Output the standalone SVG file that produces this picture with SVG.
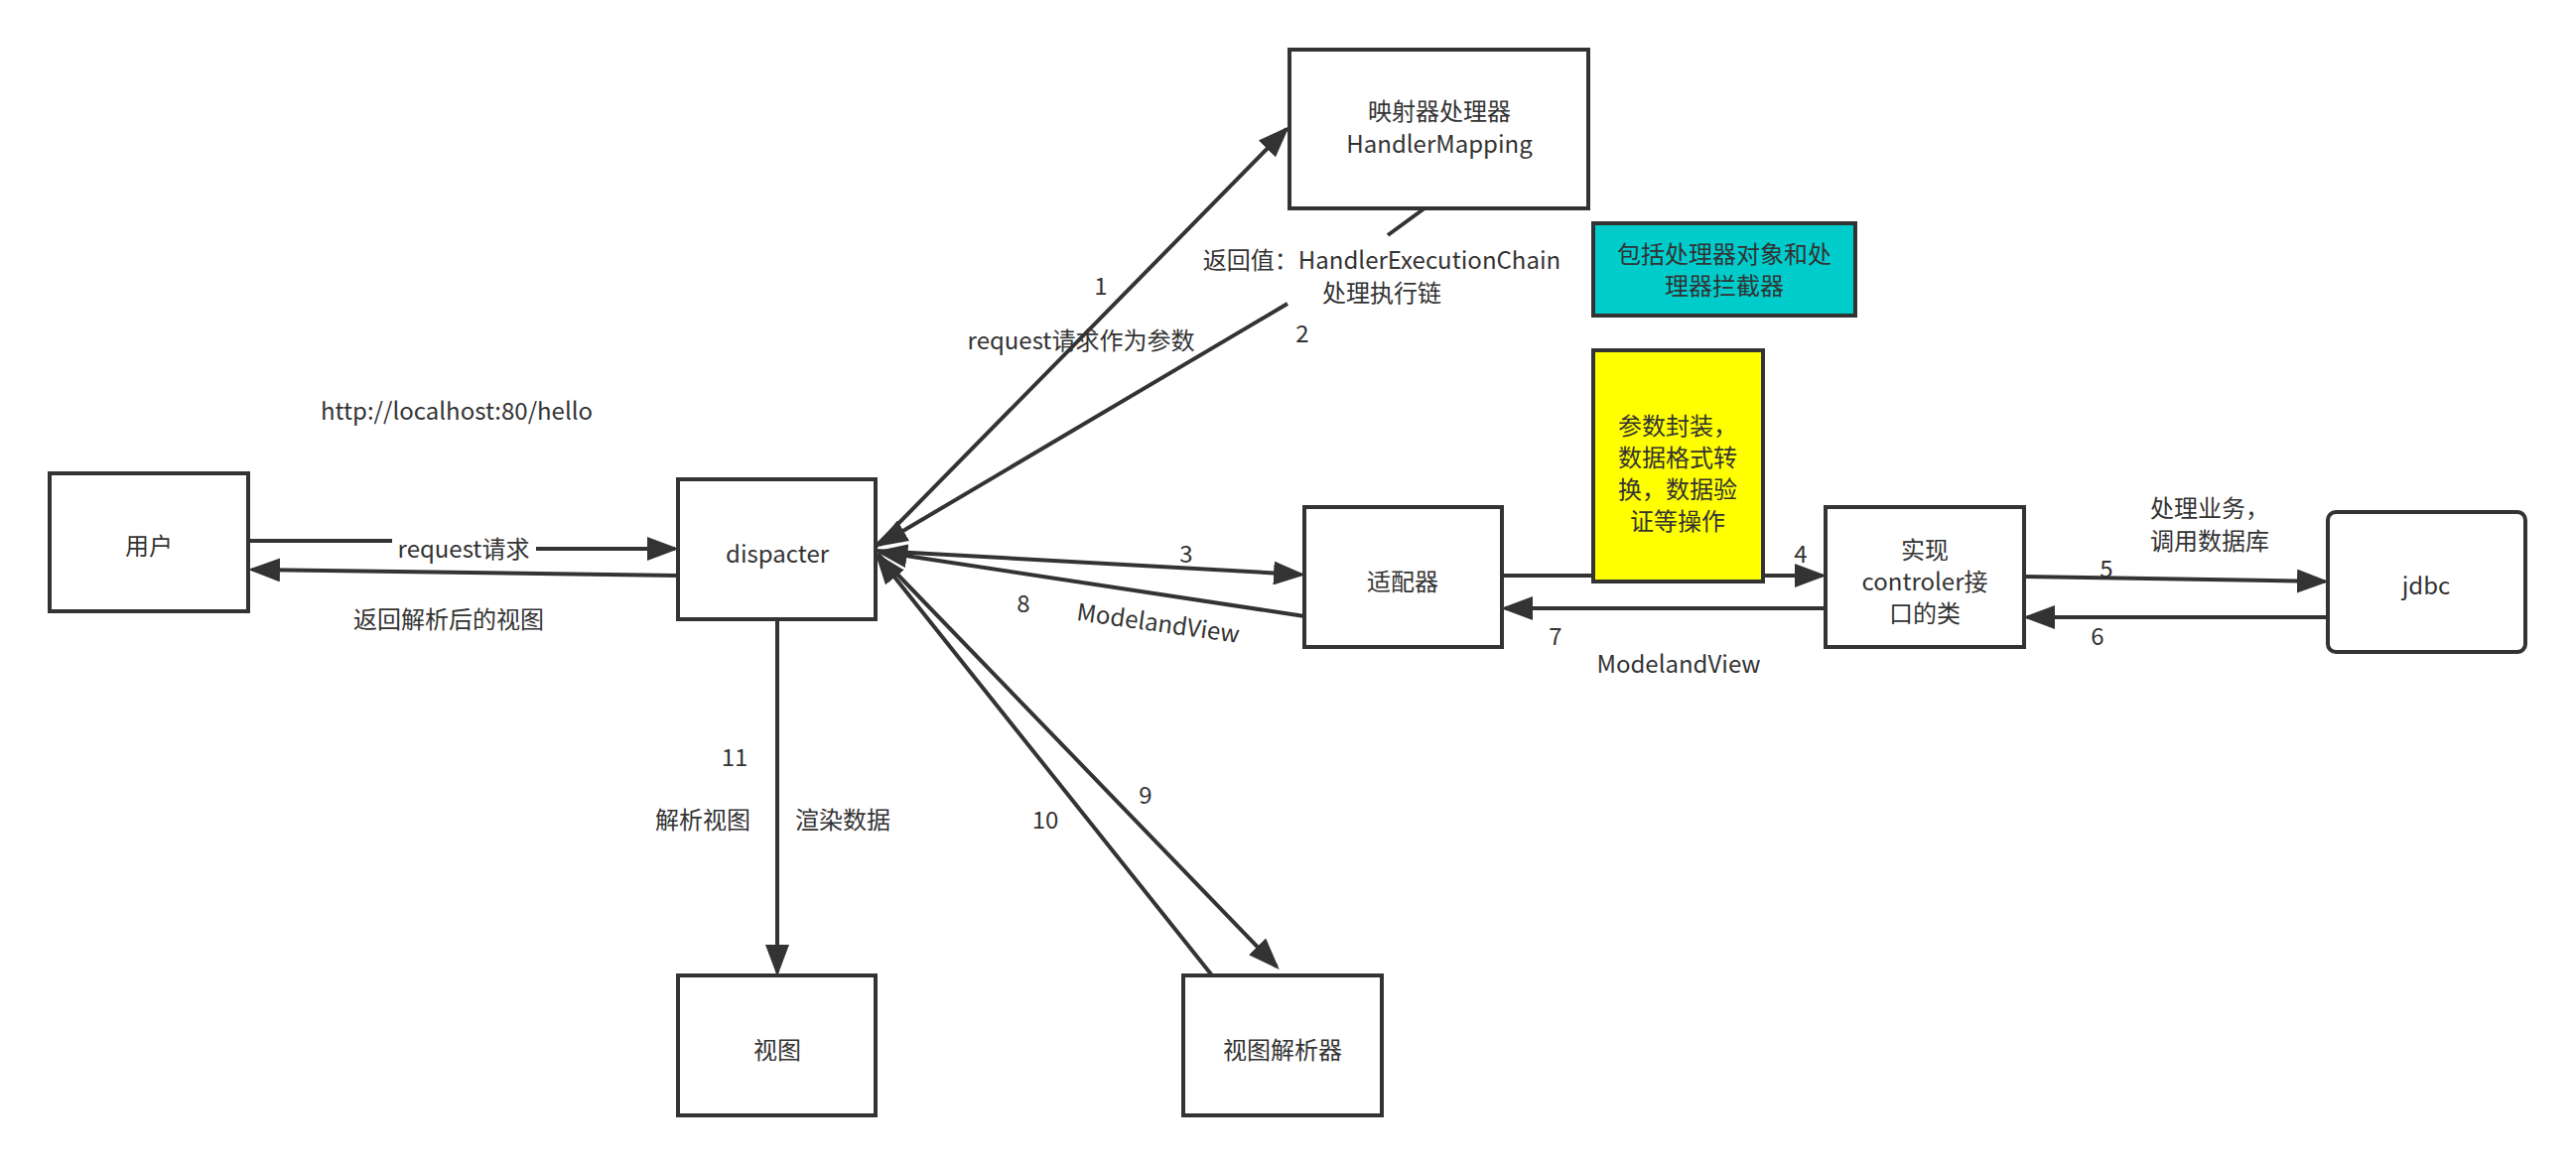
<svg xmlns="http://www.w3.org/2000/svg" width="2595" height="1174" viewBox="0 0 2595 1174">
<style>
.b{fill:#fff;stroke:#333;stroke-width:4}
.t{font-family:"Noto Sans CJK SC","Noto Sans",sans-serif;font-size:24px;fill:#333;text-anchor:middle;dominant-baseline:central}
.c{fill:none;stroke:#333;stroke-width:4}
</style>
<defs><marker id="a" markerWidth="8" markerHeight="6" refX="7" refY="3" orient="auto" markerUnits="strokeWidth"><path d="M0,0 L8,3 L0,6 Z" fill="#333"/></marker></defs>
<rect width="2595" height="1174" fill="#fff"/>
<g id="connectors">
<path class="c" d="M250,545 H400 V553 H680" marker-end="url(#a)"/>
<path class="c" d="M683,580 L254,574" marker-end="url(#a)"/>
<path class="c" d="M882,551 L1296,130" marker-end="url(#a)"/>
<path class="c" d="M1450,199 L1398,237"/>
<path class="c" d="M1297,306 L886,549" marker-end="url(#a)"/>
<path class="c" d="M882,555 L1311,579" marker-end="url(#a)"/>
<path class="c" d="M1314,621 L886,556" marker-end="url(#a)"/>
<path class="c" d="M884,558 L1286,974" marker-end="url(#a)"/>
<path class="c" d="M1221,983 L884,560" marker-end="url(#a)"/>
<path class="c" d="M783,624 V980" marker-end="url(#a)"/>
<path class="c" d="M1513,580 H1836" marker-end="url(#a)"/>
<path class="c" d="M1839,613 H1516" marker-end="url(#a)"/>
<path class="c" d="M2039,581 L2342,586" marker-end="url(#a)"/>
<path class="c" d="M2345,622 H2042" marker-end="url(#a)"/>
</g>
<g id="user"><rect class="b" x="50" y="477" width="200" height="139"/><text class="t" x="150" y="548">用户</text></g>
<g id="dispacter"><rect class="b" x="683" y="483" width="199" height="141"/><text class="t" x="783" y="556">dispacter</text></g>
<g id="mapping"><rect class="b" x="1299" y="50" width="301" height="160"/><text class="t" x="1450" y="110">映射器处理器</text><text class="t" x="1450" y="143">HandlerMapping</text></g>
<g id="note1"><rect x="1605" y="225" width="264" height="93" fill="#00cccc" stroke="#333" stroke-width="4"/><text class="t" x="1737" y="254">包括处理器对象和处</text><text class="t" x="1737" y="286">理器拦截器</text></g>
<g id="adapter"><rect class="b" x="1314" y="511" width="199" height="141"/><text class="t" x="1413" y="584">适配器</text></g>
<g id="note2"><rect x="1605" y="353" width="171" height="233" fill="#ffff00" stroke="#333" stroke-width="4"/><text class="t" x="1690" y="427">参数封装，</text><text class="t" x="1690" y="459">数据格式转</text><text class="t" x="1690" y="491">换，数据验</text><text class="t" x="1690" y="523">证等操作</text></g>
<g id="controller"><rect class="b" x="1839" y="511" width="200" height="141"/><text class="t" x="1939" y="552">实现</text><text class="t" x="1939" y="584">controler接</text><text class="t" x="1939" y="616">口的类</text></g>
<g id="jdbc"><rect class="b" x="2345" y="516" width="199" height="141" rx="8"/><text class="t" x="2444" y="588">jdbc</text></g>
<g id="view"><rect class="b" x="683" y="983" width="199" height="141"/><text class="t" x="783" y="1056">视图</text></g>
<g id="resolver"><rect class="b" x="1192" y="983" width="200" height="141"/><text class="t" x="1292" y="1056">视图解析器</text></g>
<g id="labels">
<text class="t" x="460" y="412">http://localhost:80/hello</text>
<rect x="395" y="535" width="145" height="30" fill="#fff"/>
<text class="t" x="467" y="551">request请求</text>
<text class="t" x="452" y="622">返回解析后的视图</text>
<text class="t" x="1109" y="286">1</text>
<text class="t" x="1089" y="341">request请求作为参数</text>
<text class="t" x="1392" y="260">返回值：HandlerExecutionChain</text>
<text class="t" x="1392" y="293">处理执行链</text>
<text class="t" x="1312" y="334">2</text>
<text class="t" x="1195" y="556">3</text>
<text class="t" x="1031" y="606">8</text>
<text class="t" x="1167" y="626" transform="rotate(8 1167 626)">ModelandView</text>
<text class="t" x="1814" y="556">4</text>
<text class="t" x="1567" y="639">7</text>
<text class="t" x="1691" y="667">ModelandView</text>
<text class="t" x="2122" y="571">5</text>
<text class="t" x="2113" y="639">6</text>
<text class="t" x="2226" y="510">处理业务，</text>
<text class="t" x="2226" y="543">调用数据库</text>
<text class="t" x="740" y="761">11</text>
<text class="t" x="708" y="824">解析视图</text>
<text class="t" x="849" y="824">渲染数据</text>
<text class="t" x="1053" y="824">10</text>
<text class="t" x="1154" y="799">9</text>
</g>
</svg>
